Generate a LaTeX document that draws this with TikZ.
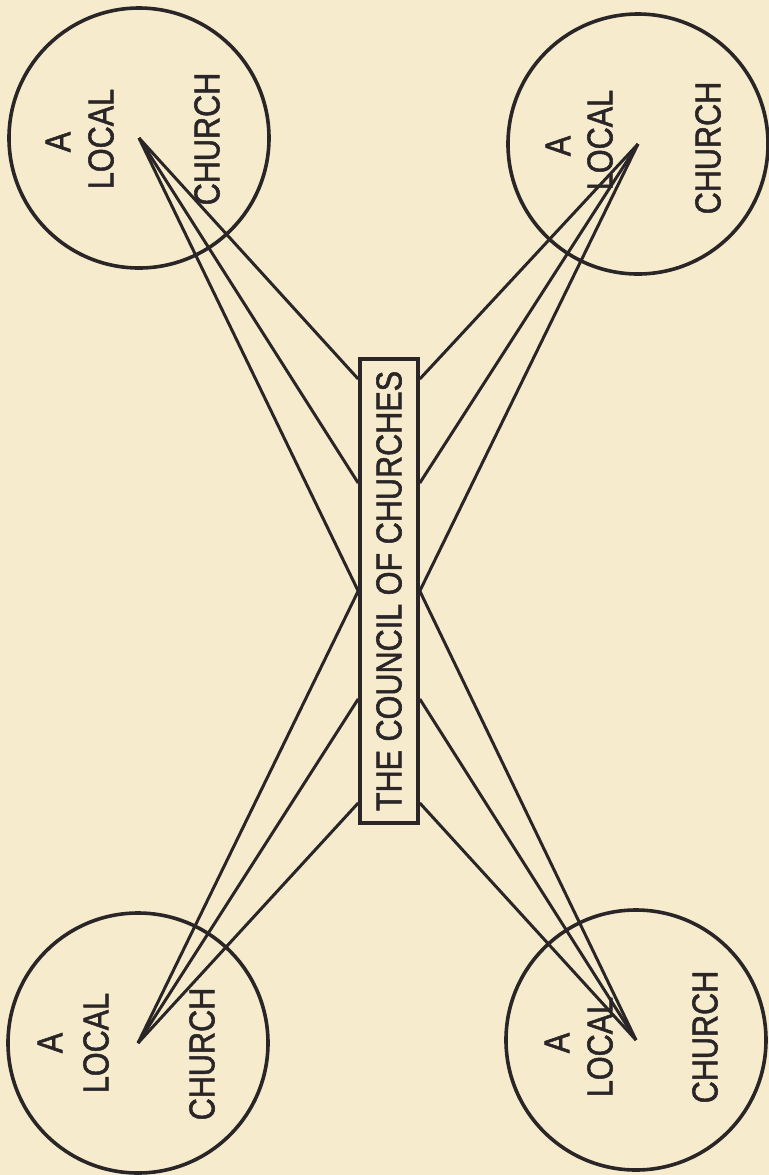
\documentclass[tikz,border=0pt]{standalone}
\usepackage{fontspec}
\setmainfont{Liberation Sans}
\newfontfamily\lblfont{Liberation Sans}[FakeBold=1.6]
\usepackage{graphicx}
\usetikzlibrary{calc}
\definecolor{paper}{HTML}{F6ECCD}
\definecolor{ink}{HTML}{2A2527}
\newcommand{\squeeze}[1]{\scalebox{0.85}[1]{#1}}
\begin{document}
\begin{tikzpicture}[x=0.5pt,y=-0.5pt,
  church/.style={circle, draw=ink, line width=1.8pt, minimum size=130pt, inner sep=0pt},
  lbl/.style={rotate=90, text=ink, font=\lblfont\fontsize{18}{18}\selectfont, inner sep=0pt},
  councilbox/.style={draw=ink, line width=1.8pt, minimum width=29pt, minimum height=232pt, inner sep=0pt, text=ink, font=\lblfont\fontsize{18}{18}\selectfont},
  link/.style={draw=ink, line width=1.5pt}]
\fill[paper] (0,0) rectangle (769,1175);
\useasboundingbox (0,0) rectangle (769,1175);

% circles
\node[church] (tl) at (139,138) {};
\node[church] (tr) at (638,144) {};
\node[church] (bl) at (138,1043) {};
\node[church] (br) at (636,1040) {};

% council
\node[councilbox] (council) at (389,591) {\rotatebox{90}{\squeeze{THE COUNCIL OF CHURCHES}}};

% labels
\node[lbl] (tla) at (58,142) {\squeeze{A}};
\node[lbl] (tll) at (101,139) {\squeeze{LOCAL}};
\node[lbl] (tlc) at (207,139) {\squeeze{CHURCH}};
\node[lbl] (tra) at (558,146) {\squeeze{A}};
\node[lbl] (trl) at (600,140) {\squeeze{LOCAL}};
\node[lbl] (trc) at (708,148) {\squeeze{CHURCH}};
\node[lbl] (bla) at (50,1043) {\squeeze{A}};
\node[lbl] (bll) at (96,1043) {\squeeze{LOCAL}};
\node[lbl] (blc) at (202,1054) {\squeeze{CHURCH}};
\node[lbl] (bra) at (557,1043) {\squeeze{A}};
\node[lbl] (brl) at (600,1047) {\squeeze{LOCAL}};
\node[lbl] (brc) at (705,1037) {\squeeze{CHURCH}};

% links
\foreach \d in {106,54,0}{
  \draw[link] (tl.center) -- ([yshift=\d pt]council.west);
  \draw[link] (tr.center) -- ([yshift=\d pt]council.east);
}
\foreach \d in {0,-54,-106}{
  \draw[link] (bl.center) -- ([yshift=\d pt]council.west);
  \draw[link] (br.center) -- ([yshift=\d pt]council.east);
}
\end{tikzpicture}
\end{document}
